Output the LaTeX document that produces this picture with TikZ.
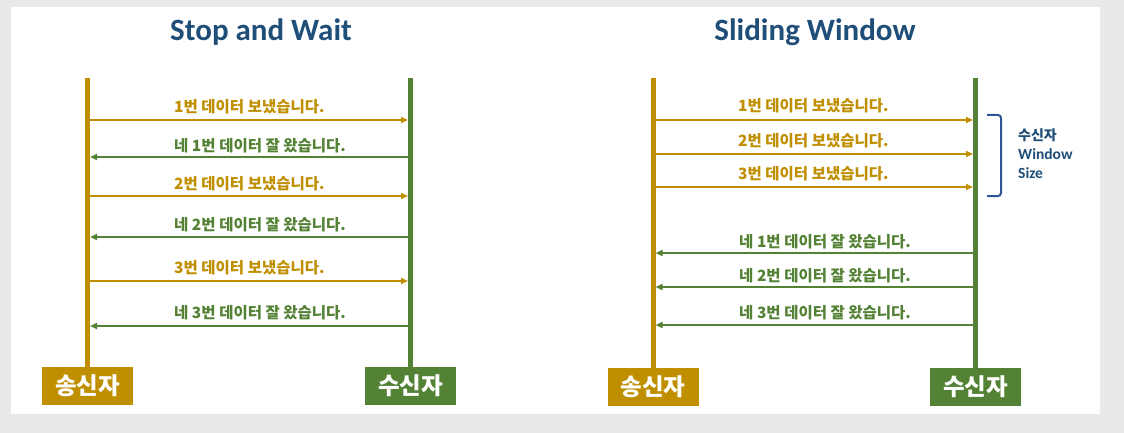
\documentclass[tikz,border=0pt]{standalone}
\usepackage{fontspec}
\setmainfont{Carlito}
\newfontfamily\kr{Noto Sans CJK KR}
\usetikzlibrary{arrows.meta}
\definecolor{goldc}{HTML}{BF8F00}
\definecolor{greenc}{HTML}{548235}
\definecolor{titleblue}{HTML}{1F4E79}
\definecolor{brblue}{HTML}{2F5597}
\definecolor{bggray}{HTML}{E9E9E9}
\tikzset{
  lifeline/.style={line width=5pt},
  msg/.style={line width=2pt, -{Triangle[length=7pt,width=6pt]}},
  actor/.style={minimum width=91pt, minimum height=38pt, inner sep=0pt, text=white,
    font=\kr\bfseries\fontsize{23.5}{23.5}\selectfont},
  msglabel/.style={anchor=west, inner sep=0pt, font=\kr\bfseries\fontsize{15.5}{15.5}\selectfont},
  titletext/.style={text=titleblue, font=\bfseries\fontsize{31}{31}\selectfont},
  bracketline/.style={draw=brblue, line width=2pt, rounded corners=3pt},
  sidelabel/.style={anchor=west, inner sep=0pt, text=titleblue}
}
\begin{document}
\begin{tikzpicture}[x=1pt,y=-1pt]
\fill[bggray] (0,0) rectangle (1124,433);
\fill[white] (11,7) rectangle (1100,414);
\useasboundingbox (0,0) rectangle (1124,433);

% ---------- Stop and Wait ----------
\node[titletext] (t1) at (261,32) {Stop and Wait};
\node[actor, fill=goldc] (s1) at (87.5,386) {송신자};
\node[actor, fill=greenc] (r1) at (410.5,386) {수신자};
\coordinate (s1top) at (87.5,78);
\coordinate (r1top) at (410.5,78);
\draw[lifeline, goldc] (s1top) -- (s1.north);
\draw[lifeline, greenc] (r1top) -- (r1.north);

\foreach \y [count=\i] in {120,157,196,237,281,326}{
  \coordinate (ls\i) at (90,\y);
  \coordinate (lr\i) at (408,\y);
}
\draw[msg, goldc] (ls1) -- (lr1);
\draw[msg, greenc] (lr2) -- (ls2);
\draw[msg, goldc] (ls3) -- (lr3);
\draw[msg, greenc] (lr4) -- (ls4);
\draw[msg, goldc] (ls5) -- (lr5);
\draw[msg, greenc] (lr6) -- (ls6);

\node[msglabel, text=goldc] (m1) at (174,107) {1번 데이터 보냈습니다.};
\node[msglabel, text=greenc] (m2) at (174,146) {네 1번 데이터 잘 왔습니다.};
\node[msglabel, text=goldc] (m3) at (174,184) {2번 데이터 보냈습니다.};
\node[msglabel, text=greenc] (m4) at (174,225) {네 2번 데이터 잘 왔습니다.};
\node[msglabel, text=goldc] (m5) at (174,268) {3번 데이터 보냈습니다.};
\node[msglabel, text=greenc] (m6) at (174,313) {네 3번 데이터 잘 왔습니다.};

% ---------- Sliding Window ----------
\node[titletext] (t2) at (815,32) {Sliding Window};
\node[actor, fill=goldc] (s2) at (653,387) {송신자};
\node[actor, fill=greenc] (r2) at (975.5,387) {수신자};
\coordinate (s2top) at (653,78);
\coordinate (r2top) at (975.5,78);
\draw[lifeline, goldc] (s2top) -- (s2.north);
\draw[lifeline, greenc] (r2top) -- (r2.north);

\foreach \y [count=\i] in {120,154,187,253,287,325}{
  \coordinate (rs\i) at (655.5,\y);
  \coordinate (rr\i) at (973,\y);
}
\draw[msg, goldc] (rs1) -- (rr1);
\draw[msg, goldc] (rs2) -- (rr2);
\draw[msg, goldc] (rs3) -- (rr3);
\draw[msg, greenc] (rr4) -- (rs4);
\draw[msg, greenc] (rr5) -- (rs5);
\draw[msg, greenc] (rr6) -- (rs6);

\node[msglabel, text=goldc] (n1) at (738,106) {1번 데이터 보냈습니다.};
\node[msglabel, text=goldc] (n2) at (738,141) {2번 데이터 보냈습니다.};
\node[msglabel, text=goldc] (n3) at (738,174) {3번 데이터 보냈습니다.};
\node[msglabel, text=greenc] (n4) at (739,242) {네 1번 데이터 잘 왔습니다.};
\node[msglabel, text=greenc] (n5) at (739,276) {네 2번 데이터 잘 왔습니다.};
\node[msglabel, text=greenc] (n6) at (739,313) {네 3번 데이터 잘 왔습니다.};

% window bracket
\coordinate (b1) at (987,115);
\coordinate (b2) at (1001,115);
\coordinate (b3) at (1001,196);
\coordinate (b4) at (987,196);
\draw[bracketline] (b1) -- (b2) -- (b3) -- (b4);
\node[sidelabel, font=\kr\bfseries\fontsize{14}{14}\selectfont] (w1) at (1018,135) {수신자};
\node[sidelabel, font=\bfseries\fontsize{15.5}{15.5}\selectfont] (w2) at (1018,154.5) {Window};
\node[sidelabel, font=\bfseries\fontsize{15.5}{15.5}\selectfont] (w3) at (1018,173.5) {Size};
\end{tikzpicture}
\end{document}
